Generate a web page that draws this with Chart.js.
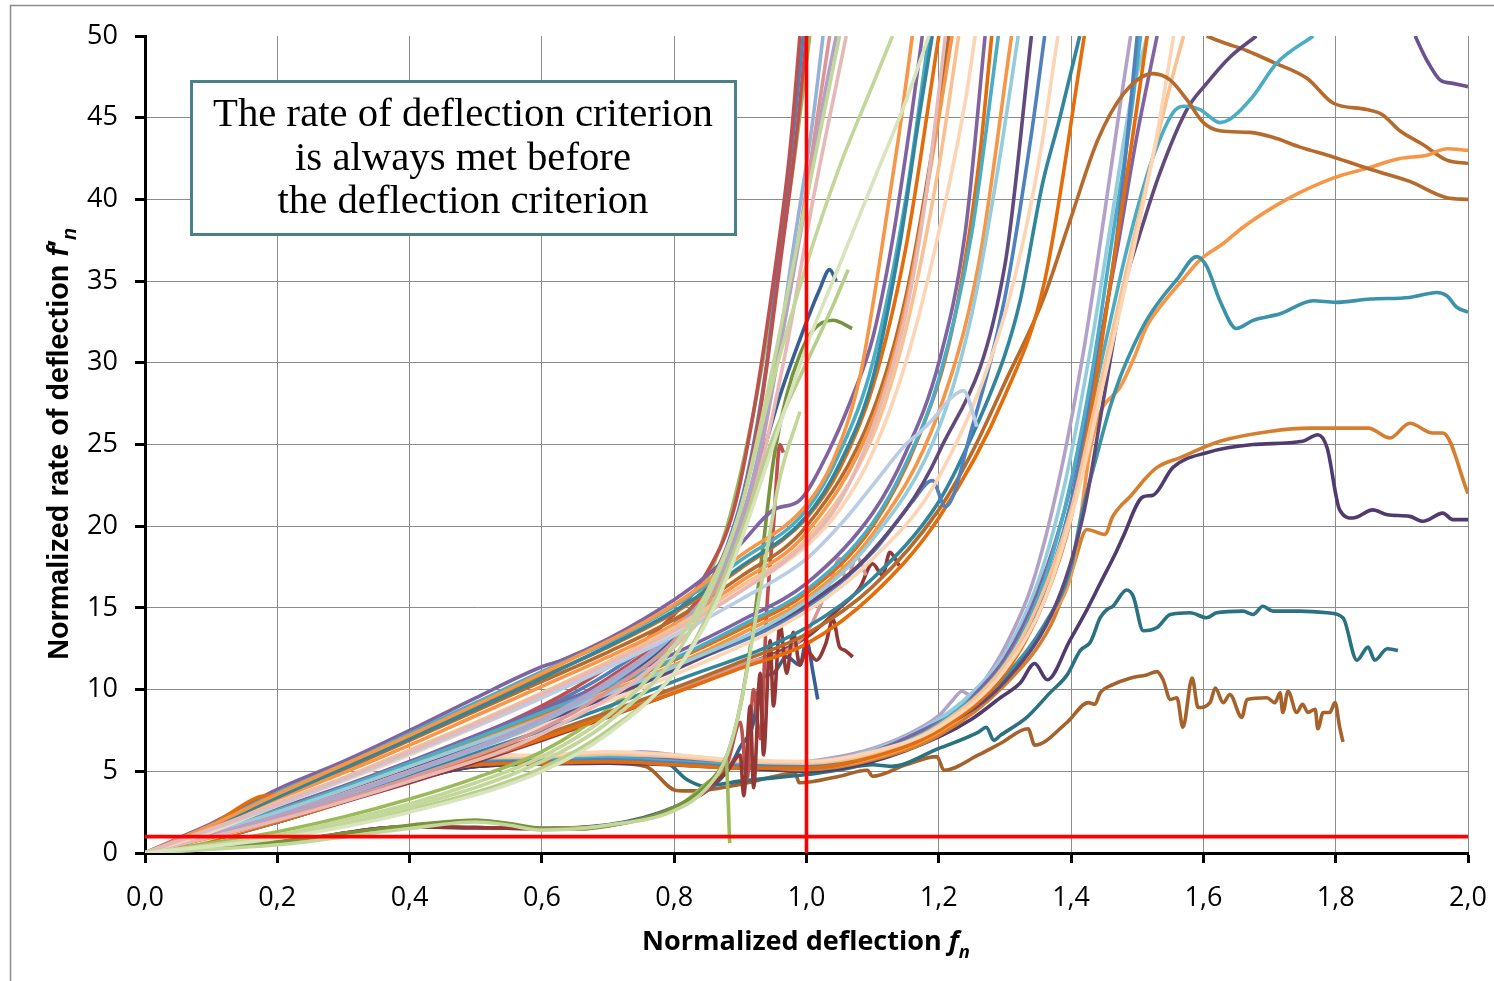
<!DOCTYPE html>
<html><head><meta charset="utf-8">
<script src="https://cdn.jsdelivr.net/npm/chart.js@4.4.0/dist/chart.umd.min.js"></script>
<style>html,body{margin:0;padding:0;background:#fff;}#wrap{position:relative;width:1494px;height:981px;}</style>
</head><body><div id="wrap"><canvas id="c" width="1494" height="981"></canvas></div>
<script>
// ---------- tick labels ----------
const xTickLabels = ['0,0','0,2','0,4','0,6','0,8','1,0','1,2','1,4','1,6','1,8','2,0'];
const yTickLabels = ['0','5','10','15','20','25','30','35','40','45','50'];
const boxLines = ['The rate of deflection criterion','is always met before','the deflection criterion'];

// ---------- criteria lines ----------
const redH = [[0,1],[2,1]];
const redV = [[1,0],[1,50]];

// ---------- upper bundle (reaches 50 near 1.1-1.25) ----------
const u1 = [[0,0],[0.05,0.9],[0.1,1.8],[0.2,3.9],[0.3,5.6],[0.4,7.5],[0.5,9.5],[0.6,11.4],[0.63,11.8],[0.7,13.1],[0.8,15.5],[0.85,17],[0.9,18.9],[0.95,21],[0.99,21.6],[1.03,24.3],[1.07,28],[1.1,31.5],[1.13,37.5],[1.16,45.5],[1.175,50]];
const u2 = [[0,0],[0.1,1.7],[0.2,3.7],[0.3,5.4],[0.4,7.3],[0.5,9.2],[0.6,11.1],[0.7,12.9],[0.8,15.1],[0.9,17.9],[1.0,21],[1.05,24.5],[1.1,30],[1.15,40],[1.185,50]];
const u3 = [[0,0],[0.1,1.7],[0.17,3.4],[0.2,3.6],[0.3,5.3],[0.4,7.1],[0.5,9],[0.6,10.8],[0.7,12.6],[0.8,14.7],[0.9,17.4],[1.0,20.5],[1.05,23.5],[1.1,28.5],[1.15,37],[1.2,50]];
const u4 = [[0,0],[0.1,1.6],[0.2,3.5],[0.3,5.1],[0.4,6.9],[0.5,8.7],[0.6,10.5],[0.7,12.3],[0.8,14.3],[0.9,16.9],[1.0,20],[1.1,27],[1.15,34],[1.19,43],[1.215,50]];
const u5 = [[0,0],[0.1,1.5],[0.2,3.3],[0.3,4.9],[0.4,6.6],[0.5,8.4],[0.6,10.2],[0.7,12],[0.8,14],[0.9,16.6],[1.0,19.6],[1.1,26.5],[1.15,33.5],[1.2,45],[1.22,50]];
const u6 = [[0,0],[0.1,1.6],[0.2,3.4],[0.4,7],[0.6,10.7],[0.8,14.8],[0.9,17.5],[1.0,20.6],[1.05,23.8],[1.1,29],[1.14,37],[1.17,45],[1.19,50]];
const u7 = [[0,0],[0.1,1.4],[0.2,3.1],[0.3,4.6],[0.4,6.3],[0.5,8],[0.6,9.8],[0.7,11.7],[0.8,13.8],[0.9,16.3],[1.0,19.2],[1.1,25.5],[1.15,32],[1.2,42],[1.23,50]];
const u8 = [[0,0],[0.1,1.3],[0.2,2.9],[0.3,4.4],[0.4,6],[0.5,7.7],[0.6,9.5],[0.7,11.4],[0.8,13.5],[0.9,16],[1.0,18.8],[1.05,21],[1.1,24.5],[1.15,30],[1.2,38],[1.24,46],[1.255,50]];
const u9 = [[0,0],[0.2,2.9],[0.4,6.1],[0.6,9.5],[0.8,13.3],[0.9,15.5],[1.0,18],[1.06,20.5],[1.1,22.5],[1.15,25],[1.17,25.7],[1.19,26.5],[1.22,27.9],[1.237,28.3],[1.258,26.1]];
const u10 = [[0,0],[0.2,3],[0.4,6.2],[0.6,9.7],[0.8,13.6],[0.9,16],[1.0,19],[1.05,21.5],[1.1,26],[1.15,33],[1.18,40],[1.21,50]];
const u11 = [[0,0],[0.1,1.7],[0.2,3.6],[0.4,7.2],[0.6,11],[0.8,15.2],[0.9,18.2],[1.0,21.3],[1.04,24],[1.08,29],[1.11,36],[1.14,44],[1.16,50]];

// ---------- middle bundle (reaches 50 near 1.25-1.42) ----------
const m1 = [[0,0],[0.1,1.2],[0.2,2.7],[0.3,4.1],[0.4,5.6],[0.5,7.2],[0.6,8.8],[0.7,10.4],[0.8,12.2],[0.9,14.2],[1.0,16.5],[1.1,20.8],[1.15,24.5],[1.2,30],[1.24,38],[1.27,50]];
const m2 = [[0,0],[0.2,2.6],[0.4,5.5],[0.6,8.6],[0.8,11.9],[0.9,13.9],[1.0,16.1],[1.1,20.2],[1.15,23.8],[1.2,29],[1.25,38],[1.29,50]];
const m3 = [[0,0],[0.2,2.5],[0.4,5.3],[0.6,8.3],[0.8,11.5],[0.9,13.4],[1.0,15.6],[1.1,19.5],[1.2,27],[1.26,36],[1.31,50]];
const m10 = [[0,0],[0.2,2.6],[0.4,5.4],[0.6,8.5],[0.8,11.8],[0.9,13.7],[1.0,15.9],[1.1,20],[1.17,25.5],[1.22,32],[1.26,42],[1.28,50]];
const m11 = [[0,0],[0.2,2.5],[0.4,5.3],[0.6,8.2],[0.8,11.4],[1.0,15.4],[1.1,19.2],[1.2,26],[1.25,33],[1.29,42],[1.32,50]];
const m4 = [[0,0],[0.2,2.4],[0.4,5.1],[0.6,8],[0.8,11.2],[0.9,13.1],[1.0,15.2],[1.1,18.5],[1.2,24.5],[1.3,36],[1.34,50]];
const m5 = [[0,0],[0.2,2.3],[0.4,5],[0.6,7.8],[0.8,10.9],[1.0,14.8],[1.1,18],[1.2,23],[1.3,33],[1.35,42],[1.38,50]];
const m6 = [[0,0],[0.2,2.4],[0.4,5.2],[0.6,8.1],[0.8,11.3],[1.0,15],[1.1,18.4],[1.16,21.5],[1.19,22.8],[1.21,21.2],[1.25,26],[1.3,34],[1.34,44],[1.36,50]];
const m7 = [[0,0],[0.2,2.1],[0.4,4.6],[0.6,7.2],[0.8,10.1],[0.9,11.7],[1.0,13.4],[1.1,16.3],[1.2,21],[1.25,24.5],[1.3,28.8],[1.357,33.8],[1.4,38.9],[1.44,43.6],[1.48,46.5],[1.524,47.7],[1.55,47.3],[1.575,46.1],[1.6,44.7],[1.625,44.2],[1.67,44.1],[1.705,43.8],[1.746,43.2],[1.796,42.6],[1.856,41.8],[1.912,41.1],[1.968,40.1],[2,40]];
const m8 = [[0,0],[0.2,2.2],[0.4,4.8],[0.6,7.5],[0.8,10.5],[1.0,13.8],[1.1,16.8],[1.2,21.5],[1.25,25.5],[1.3,30.5],[1.323,33.8],[1.357,41],[1.383,45],[1.413,50]];
const m9 = [[0,0],[0.2,2],[0.4,4.5],[0.6,7],[0.8,9.8],[0.9,11.3],[1.0,12.8],[1.1,15.8],[1.2,20.5],[1.3,28],[1.36,35],[1.42,50]];

// ---------- steep bundle (reaches 50 near 1.0) ----------
const s1 = [[0,0],[0.1,1.2],[0.2,2.5],[0.3,3.9],[0.4,5.4],[0.5,7],[0.6,8.8],[0.7,11],[0.8,14],[0.85,16.3],[0.88,18.8],[0.91,23],[0.94,30],[0.96,37],[0.98,44],[0.995,50]];
const s2 = [[0,0],[0.2,2.4],[0.4,5.2],[0.6,8.5],[0.7,10.7],[0.8,13.8],[0.86,17],[0.9,21],[0.93,27],[0.96,36],[0.985,44],[1.0,50]];
const s3 = [[0,0],[0.2,2.2],[0.4,4.9],[0.6,8],[0.7,10.3],[0.8,13.4],[0.87,17],[0.91,21.5],[0.95,29],[0.98,37],[1.01,45],[1.025,50]];
const s4 = [[0,0],[0.2,2.1],[0.4,4.6],[0.6,7.6],[0.7,9.9],[0.8,13],[0.88,17.5],[0.92,22.5],[0.96,31],[0.99,38],[1.02,46],[1.035,50]];
const s5 = [[0,0],[0.2,1.3],[0.3,2.2],[0.4,3.3],[0.5,4.6],[0.6,6.2],[0.7,8.8],[0.78,12],[0.84,16],[0.88,20],[0.92,27],[0.95,34],[0.98,42],[1.005,50]];
const s6 = [[0,0],[0.2,1.1],[0.3,2],[0.4,3],[0.5,4.3],[0.6,5.9],[0.7,8.4],[0.78,11.6],[0.85,16],[0.9,21],[0.94,28],[0.98,36],[1.02,44],[1.05,50]];
const s7 = [[0,0],[0.2,1],[0.4,2.8],[0.6,5.6],[0.7,8],[0.8,12],[0.86,16.5],[0.9,21],[0.95,29],[1.0,36],[1.05,42],[1.1,47],[1.13,50]];
const s8 = [[0,0],[0.2,2.6],[0.4,5.5],[0.6,9],[0.7,11.4],[0.8,14.6],[0.85,17.2],[0.89,21],[0.92,27],[0.95,35],[0.975,43],[0.99,50]];
const s9 = [[0,0],[0.2,2.3],[0.4,5],[0.6,8.2],[0.7,10.5],[0.8,13.6],[0.87,17.3],[0.92,23],[0.96,31],[1.0,40],[1.03,47],[1.045,50]];
const s10 = [[0,0],[0.2,2],[0.4,4.4],[0.6,7.3],[0.8,12.6],[0.88,17],[0.93,23.5],[0.97,31],[1.01,40],[1.05,48],[1.06,50]];
const s11 = [[0,0],[0.2,1],[0.4,2.6],[0.6,5.2],[0.7,7.5],[0.8,11],[0.85,14.5],[0.9,19.5],[0.95,25.5],[1.0,30],[1.04,33.5],[1.063,35.7]];
const s12 = [[0,0],[0.2,2.3],[0.4,5],[0.6,8.2],[0.8,13.2],[0.87,17],[0.92,22.5],[0.96,28],[1.0,32.5],[1.02,34.5],[1.035,35.7],[1.045,35]];
const s13 = [[0,0],[0.2,0.9],[0.4,2.5],[0.6,5],[0.7,7.3],[0.8,11],[0.86,15],[0.9,19],[0.95,25],[1.0,31],[1.05,36],[1.1,41],[1.15,46],[1.185,50]];

// ---------- low green group ----------
const g1 = [[0,0],[0.1,0.3],[0.2,0.7],[0.3,1.2],[0.4,1.7],[0.5,2.0],[0.55,1.8],[0.6,1.5],[0.65,1.45],[0.72,1.8],[0.8,2.8],[0.85,4.2],[0.88,6],[0.9,9],[0.92,14],[0.935,19],[0.95,24],[0.97,28],[0.99,30.5],[1.01,32],[1.04,32.6],[1.069,32.1]];
const g2 = [[0,0],[0.2,0.6],[0.4,1.6],[0.5,2],[0.6,1.5],[0.7,1.7],[0.8,2.7],[0.85,4.3],[0.87,5],[0.878,5.8],[0.884,0.6]];
const g3 = [[0,0],[0.2,0.5],[0.4,1.5],[0.5,1.9],[0.55,1.7],[0.6,1.4],[0.7,1.7],[0.8,2.6],[0.85,4],[0.88,6],[0.9,9],[0.93,16],[0.96,23],[0.99,27]];
const r1 = [[0,0],[0.2,0.6],[0.4,1.6],[0.6,1.5],[0.8,2.7],[0.85,4],[0.88,5],[0.9,6],[0.905,3.5],[0.915,9],[0.92,4],[0.93,11],[0.935,6],[0.945,13],[0.95,9],[0.96,14],[0.97,11],[0.98,13.5],[0.99,11.5],[1.0,12.4],[1.015,11.8],[1.029,12.8],[1.04,14.3],[1.05,12.6],[1.058,12.4],[1.07,12.0]];
const r2 = [[0,0],[0.2,0.6],[0.4,1.6],[0.6,1.5],[0.8,2.8],[0.88,5.5],[0.9,8],[0.91,4.5],[0.92,10],[0.93,7],[0.94,15],[0.95,20],[0.96,25],[0.965,24.5]];
const bn = [[0,0],[0.2,0.6],[0.4,1.6],[0.6,1.5],[0.8,2.8],[0.88,5],[0.9,6.5],[0.92,8],[0.93,10.5],[0.95,11],[0.97,12],[0.99,11.5],[1.0,13],[1.01,11],[1.017,9.4]];
const rz1 = [[0,0],[0.2,2],[0.4,4.4],[0.6,7],[0.8,10],[0.9,11.5],[1.0,13.5],[1.035,16.5],[1.05,18],[1.06,16.7],[1.076,18.1],[1.09,17]];
const rz2 = [[0,0],[0.2,2],[0.4,4.3],[0.6,6.9],[0.8,9.8],[0.9,11.4],[1.0,13.2],[1.05,15],[1.08,16.2],[1.1,17.7],[1.115,17],[1.126,18.4],[1.14,17.6]];

// ---------- plateau bundle (about 5.5 until 1.0, then up) ----------
const p1 = [[0,0],[0.1,0.9],[0.2,2.1],[0.3,3.4],[0.4,4.8],[0.45,5.4],[0.5,5.8],[0.55,6],[0.6,5.8],[0.65,6.1],[0.7,6],[0.75,6.2],[0.8,6],[0.85,5.8],[0.9,5.6],[0.95,5.5],[1.0,5.6],[1.05,5.9],[1.1,6.4],[1.15,7.2],[1.2,8.4],[1.22,9.3],[1.235,9.9],[1.25,9.6],[1.27,10.6],[1.3,12.6],[1.34,16.3],[1.38,22.5],[1.42,31],[1.45,39],[1.475,46],[1.49,50]];
const p2 = [[0,0],[0.1,0.9],[0.2,2],[0.3,3.3],[0.4,4.7],[0.45,5.3],[0.5,5.7],[0.6,5.7],[0.7,5.9],[0.8,5.8],[0.9,5.5],[1.0,5.5],[1.1,6.3],[1.2,8.2],[1.25,9.8],[1.3,12.2],[1.35,16.6],[1.39,22.5],[1.43,31],[1.46,38.5],[1.49,46],[1.515,50]];
const p3 = [[0,0],[0.1,0.8],[0.2,1.9],[0.3,3.2],[0.4,4.6],[0.5,5.6],[0.6,5.6],[0.7,5.8],[0.8,5.7],[0.9,5.5],[1.0,5.4],[1.1,6.2],[1.2,8],[1.23,8.6],[1.25,9.5],[1.3,11.9],[1.35,16],[1.4,22.5],[1.44,30.5],[1.47,37],[1.5,44],[1.53,50]];
const p4 = [[0,0],[0.1,0.9],[0.2,2],[0.3,3.3],[0.4,4.8],[0.5,5.8],[0.6,5.9],[0.7,6.1],[0.8,5.9],[0.9,5.6],[1.0,5.5],[1.1,6.1],[1.2,7.8],[1.3,11.5],[1.35,15.2],[1.4,21],[1.44,28],[1.48,35],[1.52,42],[1.55,47],[1.57,50]];
const p5 = [[0,0],[0.1,0.8],[0.2,1.9],[0.3,3.2],[0.4,4.6],[0.5,5.5],[0.6,5.6],[0.7,5.7],[0.8,5.5],[0.9,5.3],[1.0,5.3],[1.1,6],[1.2,7.7],[1.3,11.3],[1.35,15],[1.4,21.5],[1.44,30],[1.47,38],[1.5,50]];
const p6 = [[0,0],[0.1,0.8],[0.2,1.9],[0.3,3.1],[0.4,4.5],[0.5,5.4],[0.6,5.5],[0.7,5.6],[0.8,5.4],[0.9,5.2],[1.0,5.2],[1.1,5.9],[1.2,7.5],[1.3,11],[1.36,15.5],[1.4,20.5],[1.43,27],[1.46,35],[1.49,43],[1.515,50]];
const p7 = [[0,0],[0.1,0.9],[0.2,2],[0.3,3.3],[0.4,4.7],[0.5,5.6],[0.6,5.7],[0.7,5.8],[0.8,5.6],[0.9,5.4],[1.0,5.35],[1.1,6.1],[1.2,7.9],[1.3,11.6],[1.35,15.6],[1.39,21],[1.43,29],[1.46,37],[1.49,45],[1.505,50]];
const p8 = [[0,0],[0.1,0.9],[0.2,2.1],[0.3,3.4],[0.4,4.9],[0.5,5.9],[0.6,6],[0.7,6.2],[0.8,6],[0.9,5.7],[1.0,5.6],[1.1,6.2],[1.2,7.7],[1.3,11.2],[1.36,15.5],[1.41,22],[1.45,29],[1.5,38],[1.53,44],[1.555,50]];

// ---------- individual right-hand curves ----------
const cyan1 = [[0,0],[0.2,2],[0.4,4.7],[0.5,5.6],[0.6,5.7],[0.8,5.8],[0.9,5.5],[1.0,5.4],[1.1,6.2],[1.2,8],[1.3,11.8],[1.35,15.5],[1.4,21],[1.44,29],[1.469,34.3],[1.484,36.9],[1.504,40],[1.524,42.6],[1.554,45.3],[1.57,45.7],[1.595,45.5],[1.625,44.7],[1.64,44.9],[1.675,46.3],[1.71,48.3],[1.766,50]];
const purpTop = [[0,0],[0.2,2],[0.4,4.6],[0.5,5.5],[0.7,5.8],[0.9,5.5],[1.0,5.3],[1.1,6],[1.2,7.6],[1.3,10.5],[1.38,15.5],[1.42,21],[1.45,28],[1.478,34.3],[1.504,37.9],[1.534,41.6],[1.575,45.5],[1.605,47.1],[1.64,48.7],[1.68,50]];
const teal36 = [[0,0],[0.2,1.9],[0.4,4.5],[0.5,5.4],[0.7,5.6],[0.9,5.3],[1.0,5.2],[1.1,5.9],[1.2,7.6],[1.3,10.8],[1.36,14],[1.4,17.5],[1.414,20.4],[1.44,24.5],[1.459,27.3],[1.474,29.1],[1.494,31],[1.514,32.6],[1.534,33.8],[1.56,35.1],[1.59,36.5],[1.605,35.9],[1.625,33.8],[1.65,32.1],[1.675,32.6],[1.716,33],[1.766,33.8],[1.8,33.7],[1.852,33.9],[1.912,34],[1.953,34.3],[1.968,34.1],[1.983,33.4],[2,33.1]];
const orange43 = [[0,0],[0.2,2],[0.4,4.6],[0.5,5.5],[0.7,5.7],[0.9,5.4],[1.0,5.2],[1.1,5.8],[1.2,7.4],[1.3,10.6],[1.37,14.5],[1.403,17.5],[1.414,20.4],[1.428,24.5],[1.44,26.5],[1.448,27.3],[1.474,28.5],[1.494,30.2],[1.514,32.2],[1.534,33.4],[1.569,35.1],[1.595,36.3],[1.63,37.3],[1.66,38.3],[1.726,40],[1.796,41.3],[1.847,41.9],[1.897,42.5],[1.938,42.7],[1.968,43.1],[2,43]];
const orange26 = [[0,0],[0.2,2],[0.4,4.5],[0.5,5.4],[0.7,5.6],[0.9,5.3],[1.0,5.1],[1.1,5.7],[1.2,7.2],[1.3,10.3],[1.37,14],[1.403,17.5],[1.424,19.8],[1.451,19.5],[1.463,20.6],[1.474,21.2],[1.489,21.8],[1.514,23],[1.53,23.6],[1.565,24.2],[1.625,25.2],[1.7,25.8],[1.761,26],[1.849,26],[1.882,25.4],[1.912,26.3],[1.947,25.7],[1.962,25.7],[2,22]];
const purp25 = [[0,0],[0.2,1.9],[0.4,4.4],[0.5,5.3],[0.7,5.5],[0.9,5.2],[1.0,5.0],[1.1,5.6],[1.2,7.1],[1.25,8.2],[1.293,9.5],[1.323,10.4],[1.345,11.6],[1.364,10.6],[1.398,13],[1.424,14.9],[1.444,16.5],[1.469,18.5],[1.478,19.3],[1.509,21.8],[1.524,21.9],[1.554,23.6],[1.605,24.5],[1.675,25],[1.75,25.2],[1.773,25.6],[1.787,24.8],[1.806,21],[1.826,20.5],[1.856,21],[1.878,20.7],[1.912,20.6],[1.932,20.3],[1.962,20.8],[1.977,20.4],[2,20.4]];
const teal15 = [[0,0],[0.2,1.9],[0.4,4.4],[0.5,5.3],[0.7,5.6],[0.78,5.7],[0.821,4.45],[0.844,4.1],[0.9,4.4],[1.0,4.8],[1.05,5.1],[1.1,5.4],[1.127,5.3],[1.2,6.4],[1.26,7.4],[1.272,7.7],[1.283,6.9],[1.293,7.2],[1.333,8.3],[1.368,9.8],[1.394,10.9],[1.414,12.4],[1.429,12.9],[1.444,14.4],[1.454,14.9],[1.463,15.1],[1.484,16.1],[1.494,15.7],[1.509,13.6],[1.53,13.8],[1.55,14.6],[1.58,14.7],[1.605,14.4],[1.62,14.7],[1.66,14.8],[1.675,14.6],[1.69,15.1],[1.705,14.8],[1.746,14.8],[1.787,14.7],[1.811,14.4],[1.832,11.8],[1.849,12.6],[1.859,11.8],[1.878,12.5],[1.894,12.4]];
const brown10 = [[0,0],[0.2,1.9],[0.4,4.4],[0.5,5.3],[0.7,5.5],[0.757,5.3],[0.803,3.83],[0.827,3.8],[0.9,4.2],[0.983,4.86],[0.989,4.3],[1.05,4.7],[1.092,5.06],[1.1,4.7],[1.15,5.4],[1.197,5.9],[1.208,5.06],[1.26,6.0],[1.293,6.7],[1.335,7.6],[1.345,6.6],[1.394,8.0],[1.426,9.2],[1.436,9.1],[1.444,9.8],[1.463,10.3],[1.489,10.7],[1.514,10.9],[1.53,11.1],[1.539,10.6],[1.55,9.4],[1.56,9.5],[1.569,7.7],[1.583,10.7],[1.592,8.9],[1.61,9.2],[1.618,10.1],[1.63,9.2],[1.64,9.7],[1.658,8.3],[1.666,9.4],[1.696,9.5],[1.708,9.2],[1.716,9.8],[1.72,8.6],[1.728,9.9],[1.741,8.6],[1.75,9.1],[1.758,8.6],[1.769,8.8],[1.773,7.6],[1.781,8.6],[1.791,8.6],[1.799,9.2],[1.806,7.7],[1.811,6.8]];
const brownTop = [[1.605,50],[1.63,49.6],[1.666,49.1],[1.705,48.4],[1.757,47.4],[1.796,45.9],[1.847,45.5],[1.87,45.2],[1.897,44.2],[1.93,43.4],[1.968,42.4],[2,42.2]];
const purpCorner = [[1.92,50],[1.938,48.5],[1.958,47.3],[1.977,47.1],[2,46.9]];

// ---------- series list: data + colour ----------
const seriesList = [
  [redH,'#FF0000'],[redV,'#FF0000'],
  [s13,'#D8E4BC'],[s7,'#C4D79B'],[s11,'#B8CF8A'],[g3,'#C4D79B'],[s6,'#C4D79B'],
  [u10,'#E6B9B8'],[u9,'#B9CDE5'],[u8,'#FCD5B5'],[u7,'#FAC090'],
  [s10,'#E6B9B8'],[s9,'#B3A2C7'],[s4,'#D99694'],[s3,'#95B3D7'],
  [m5,'#FCD5B5'],[m11,'#93CDDD'],[m3,'#F79646'],[m2,'#4BACC6'],[m10,'#E46C0A'],[m1,'#8064A2'],[m4,'#604A7B'],[m6,'#4F81BD'],[m8,'#31859C'],[m9,'#E46C0A'],[m7,'#B66A2C'],
  [u11,'#F79646'],[u6,'#31859C'],[u5,'#F79646'],[u4,'#B66A2C'],[u3,'#E46C0A'],[u2,'#4BACC6'],[u1,'#8064A2'],
  [s8,'#C0504D'],[s2,'#C0504D'],[s1,'#4F81BD'],[s12,'#376092'],[s5,'#9BBB59'],
  [g1,'#77933C'],[g2,'#9BBB59'],[r1,'#953735'],[r2,'#C0504D'],[bn,'#376092'],[rz1,'#D99694'],[rz2,'#953735'],
  [p8,'#FCD5B5'],[p4,'#FAC090'],[p6,'#E46C0A'],[p5,'#4F81BD'],[p7,'#4BACC6'],[p3,'#8064A2'],[p2,'#93CDDD'],[p1,'#B3A2C7'],
  [cyan1,'#4BACC6'],[purpTop,'#604A7B'],[teal36,'#3A93A8'],[orange43,'#F79646'],[orange26,'#D47F2F'],[purp25,'#4F3B6E'],[teal15,'#2A7181'],[brown10,'#A5622A'],[brownTop,'#B66A2C'],[purpCorner,'#6A5290']
];

const datasets = seriesList.map(([arr,col],i)=>({
  data: arr.map(p=>({x:p[0],y:p[1]})),
  borderColor: col,
  borderWidth: 3.6,
  pointRadius: 0,
  showLine: true,
  fill: false,
  cubicInterpolationMode: i<2 ? 'default' : 'monotone',
  tension: i<2 ? 0 : 0.4
}));

// ---------- decorations: frame, annotation box, axis titles ----------
function fitSize(ctx, runs, target){
  let base = 100, w = 0;
  runs.forEach(r=>{ctx.font=r[1](base); w+=ctx.measureText(r[0]).width;});
  return base*target/w;
}
const deco = {
  id:'deco',
  beforeDraw(chart){
    const c = chart.ctx; c.save();
    c.fillStyle='#fff'; c.fillRect(0,0,chart.width,chart.height);
    c.strokeStyle='#8c8c8c'; c.lineWidth=1.5;
    c.beginPath(); c.moveTo(10.5,981); c.lineTo(10.5,5.5); c.lineTo(1494,5.5); c.stroke();
    c.restore();
  },
  afterDraw(chart){
    const c = chart.ctx; c.save();
    // annotation box
    c.fillStyle='#fff'; c.fillRect(190,80,547,156);
    c.strokeStyle='#4A8087'; c.lineWidth=3; c.strokeRect(191.5,81.5,544,153);
    c.fillStyle='#000'; c.textAlign='center'; c.textBaseline='alphabetic';
    c.font='100px "Liberation Serif"';
    const fs = 100*500/c.measureText(boxLines[0]).width;
    c.font=fs+'px "Liberation Serif"';
    const bl=[126,170,213];
    boxLines.forEach((t,i)=>c.fillText(t,463,bl[i]));
    // x title
    const xr = [['Normalized deflection ',s=>`bold ${s}px "Open Sans"`,0],['f',s=>`italic bold ${s}px "Open Sans"`,0],['n',s=>`italic bold ${s*0.68}px "Open Sans"`,0.28]];
    let sz = fitSize(c,xr,328);
    let widths = xr.map(r=>{c.font=r[1](sz); return c.measureText(r[0]).width;});
    let x = 806 - widths.reduce((a,b)=>a+b,0)/2;
    c.textAlign='left';
    xr.forEach((r,i)=>{c.font=r[1](sz); c.fillText(r[0],x,950+r[2]*sz); x+=widths[i];});
    // y title
    const yr = [['Normalized rate of deflection ',s=>`bold ${s}px "Liberation Sans"`,0],['f',s=>`italic bold ${s}px "Liberation Sans"`,0],['\u2032',s=>`bold ${s}px "Liberation Sans"`,0],['n',s=>`italic bold ${s*0.68}px "Liberation Sans"`,0.28]];
    sz = fitSize(c,yr,432);
    widths = yr.map(r=>{c.font=r[1](sz); return c.measureText(r[0]).width;});
    c.translate(68,444); c.rotate(-Math.PI/2);
    x = -widths.reduce((a,b)=>a+b,0)/2;
    yr.forEach((r,i)=>{c.font=r[1](sz); c.fillText(r[0],x,r[2]*sz); x+=widths[i];});
    c.restore();
  }
};

function noLabelPad(s){ s.paddingLeft=0; s.paddingRight=0; s.paddingTop=0; s.paddingBottom=0; }
const gridColor = '#8c8c8c';
new Chart(document.getElementById('c'), {
  type:'scatter',
  data:{datasets},
  options:{
    responsive:false, animation:false, devicePixelRatio:1,
    layout:{padding:{top:36,right:26,left:0,bottom:0}},
    plugins:{legend:{display:false},tooltip:{enabled:false}},
    scales:{
      x:{type:'linear',min:0,max:2,
        afterFit(s){s.height=981-853; noLabelPad(s);},
        afterBuildTicks(s){s.ticks=xTickLabels.map((l,i)=>({value:i*0.2}));},
        ticks:{callback:(v,i)=>xTickLabels[i],font:{family:'"Open Sans"',size:27},color:'#000',padding:19,maxRotation:0,autoSkip:false},
        grid:{color:gridColor,lineWidth:1,tickColor:'#000',tickWidth:3,tickLength:10},
        border:{color:'#000',width:3}},
      y:{type:'linear',min:0,max:50,
        afterFit(s){s.width=145; noLabelPad(s);},
        afterBuildTicks(s){s.ticks=yTickLabels.map((l,i)=>({value:i*5}));},
        ticks:{callback:(v,i)=>yTickLabels[i],font:{family:'"Open Sans"',size:27},color:'#000',padding:17,autoSkip:false},
        grid:{color:(ctx)=> (ctx.tick && ctx.tick.value===50) ? 'rgba(0,0,0,0)' : gridColor,lineWidth:1,tickColor:'#000',tickWidth:3,tickLength:10},
        border:{color:'#000',width:3}}
    }
  },
  plugins:[deco]
});
</script></body></html>
